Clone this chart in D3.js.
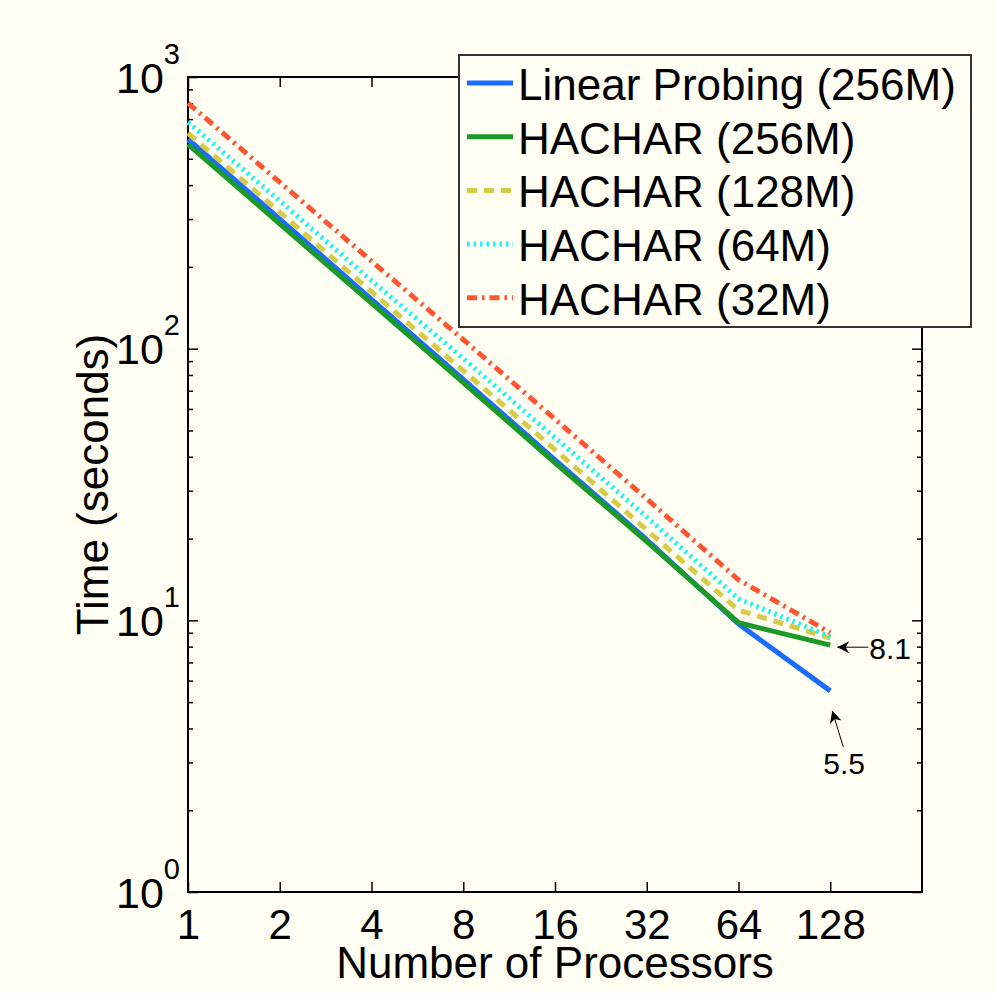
<!DOCTYPE html>
<html>
<head>
<meta charset="utf-8">
<script src="https://cdn.jsdelivr.net/npm/d3@7"></script>
<style>
  html, body { margin: 0; padding: 0; background: #fffef2; }
  text { font-family: "Liberation Sans", Arial, sans-serif; fill: #000; }
</style>
</head>
<body>
<script>
// data
let procs = [1, 2, 4, 8, 16, 32, 64, 128];
let linearProbing256 = [590, 300, 152, 77, 39, 19.8, 9.7, 5.5];
let hachar256 = [565, 288, 147, 75, 38, 19.5, 9.8, 8.1];
let hachar128 = [621, 318, 162, 83, 42.5, 21.5, 10.9, 8.6];
let hachar64 = [682, 350, 178, 92, 47, 24, 12.0, 8.7];
let hachar32 = [802, 410, 210, 108, 55, 28, 14.1, 9.0];
let seriesNames = ["Linear Probing (256M)", "HACHAR (256M)", "HACHAR (128M)", "HACHAR (64M)", "HACHAR (32M)"];
let yMajor = [1, 10, 100, 1000];
let yExp = ["0", "1", "2", "3"];

let series = [
  {name: seriesNames[0], values: linearProbing256, color: "#1a6cff", dash: null},
  {name: seriesNames[1], values: hachar256, color: "#1c9a27", dash: null},
  {name: seriesNames[2], values: hachar128, color: "#d6cb48", dash: "10,7"},
  {name: seriesNames[3], values: hachar64, color: "#19f5f5", dash: "2.5,4"},
  {name: seriesNames[4], values: hachar32, color: "#ff5533", dash: "10,5,2.5,5"}
];

let W = 996, H = 993;
let margin = {left: 188, right: 74, top: 77, bottom: 101};
let width = W - margin.left - margin.right;
let height = H - margin.top - margin.bottom;

let svg = d3.select("body").append("svg").attr("width", W).attr("height", H);
svg.append("rect").attr("width", W).attr("height", H).attr("fill", "#fffef2");

let x = d3.scaleLog().base(2).domain([1, 256]).range([0, width]);
let y = d3.scaleLog().base(10).domain([1, 1000]).range([height, 0]);

let g = svg.append("g").attr("transform", "translate(" + margin.left + "," + margin.top + ")");

// minor ticks for log y
let yMinor = [];
for (let d = 1; d < 1000; d *= 10) {
  for (let k = 2; k <= 9; k++) yMinor.push(d * k);
}

let styleAxis = (sel) => {
  sel.select(".domain").remove();
  sel.selectAll("line").attr("stroke", "#000").attr("stroke-width", 1.5);
};

g.append("g").attr("transform", "translate(0," + height + ")")
  .call(d3.axisBottom(x).tickValues(procs).tickSizeInner(-10).tickSizeOuter(0).tickFormat(d3.format("d")))
  .call(styleAxis)
  .call(a => a.selectAll("text").attr("font-size", 42).attr("dy", "0.71em").attr("y", 17));

g.append("g")
  .call(d3.axisTop(x).tickValues(procs).tickSizeInner(-10).tickSizeOuter(0).tickFormat(""))
  .call(styleAxis);

let yLeft = g.append("g")
  .call(d3.axisLeft(y).tickValues(yMajor).tickSizeInner(-10).tickSizeOuter(0).tickFormat(""))
  .call(styleAxis);
g.append("g")
  .call(d3.axisLeft(y).tickValues(yMinor).tickSizeInner(-5).tickSizeOuter(0).tickFormat(""))
  .call(styleAxis);
g.append("g").attr("transform", "translate(" + width + ",0)")
  .call(d3.axisRight(y).tickValues(yMajor).tickSizeInner(-10).tickSizeOuter(0).tickFormat(""))
  .call(styleAxis);
g.append("g").attr("transform", "translate(" + width + ",0)")
  .call(d3.axisRight(y).tickValues(yMinor).tickSizeInner(-5).tickSizeOuter(0).tickFormat(""))
  .call(styleAxis);

// 10^n labels
yLeft.selectAll(".tick").each(function(d, i) {
  let t = d3.select(this).append("text").attr("x", -8).attr("y", 15).attr("text-anchor", "end").attr("font-size", 43);
  t.append("tspan").text("10");
  t.append("tspan").attr("font-size", 29).attr("dy", -29).text(yExp[i]);
});

// frame
g.append("rect").attr("width", width).attr("height", height)
  .attr("fill", "none").attr("stroke", "#000").attr("stroke-width", 2);

// lines
let line = d3.line().x((d, i) => x(procs[i])).y(d => y(d));
series.forEach(s => {
  g.append("path").attr("d", line(s.values))
    .attr("fill", "none").attr("stroke", s.color).attr("stroke-width", 5)
    .attr("stroke-dasharray", s.dash).attr("stroke-linejoin", "round");
});

// axis titles
svg.append("text").attr("x", margin.left + width / 2).attr("y", 978)
  .attr("text-anchor", "middle").attr("font-size", 44).text("Number of Processors");
svg.append("text").attr("transform", "translate(108," + (margin.top + height / 2) + ") rotate(-90)")
  .attr("text-anchor", "middle").attr("font-size", 44).text("Time (seconds)");

// annotations
svg.append("defs").append("marker").attr("id", "arr")
  .attr("viewBox", "0 0 10 10").attr("refX", 10).attr("refY", 5)
  .attr("markerWidth", 16).attr("markerHeight", 12).attr("orient", "auto")
  .attr("markerUnits", "userSpaceOnUse")
  .append("path").attr("d", "M0,0 L10,5 L0,10 L3,5 Z").attr("fill", "#000");

let ax = x(128), ayG = y(hachar256[7]), ayB = y(linearProbing256[7]);
g.append("line").attr("x1", ax + 38).attr("y1", ayG + 2).attr("x2", ax + 7).attr("y2", ayG + 2)
  .attr("stroke", "#000").attr("stroke-width", 1).attr("marker-end", "url(#arr)");
g.append("text").attr("x", ax + 39).attr("y", ayG + 14).attr("font-size", 30).text("8.1");
g.append("line").attr("x1", ax + 13).attr("y1", ayB + 56).attr("x2", ax + 2).attr("y2", ayB + 20)
  .attr("stroke", "#000").attr("stroke-width", 1).attr("marker-end", "url(#arr)");
g.append("text").attr("x", ax - 7).attr("y", ayB + 83).attr("font-size", 30).text("5.5");

// legend
let lg = svg.append("g").attr("transform", "translate(459,55)");
lg.append("rect").attr("width", 512).attr("height", 272)
  .attr("fill", "#fffef2").attr("stroke", "#333").attr("stroke-width", 2);
series.forEach((s, i) => {
  let cy = 28 + i * 53.7;
  lg.append("line").attr("x1", 8).attr("x2", 54).attr("y1", cy).attr("y2", cy)
    .attr("stroke", s.color).attr("stroke-width", 5).attr("stroke-dasharray", s.dash);
  lg.append("text").attr("x", 59).attr("y", cy + 17).attr("font-size", 44).text(s.name);
});
</script>
</body>
</html>
